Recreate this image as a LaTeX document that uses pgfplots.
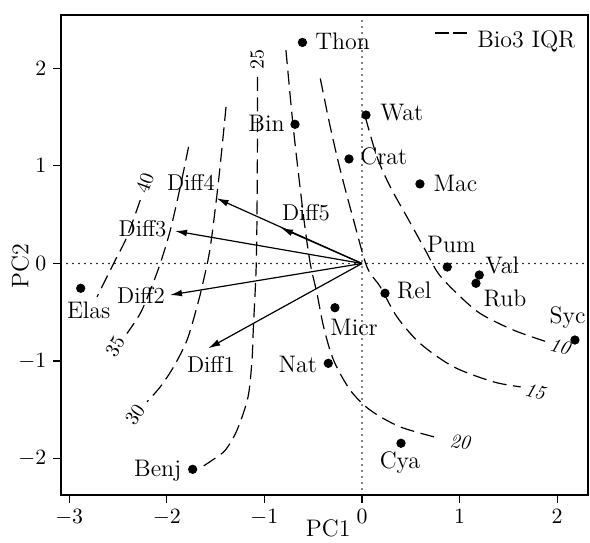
\documentclass[border=0pt]{standalone}
\usepackage{pgfplots}
\pgfplotsset{compat=1.18}
\usetikzlibrary{arrows.meta}

\tikzset{
  contour/.style={black, line width=0.6bp, dash pattern=on 7bp off 3.3bp},
  refline/.style={black, line width=0.9bp, line cap=round, dash pattern=on 0pt off 3bp},
  vec/.style={black, line width=0.6bp, -{Latex[length=6bp,width=3.4bp]}},
  ptlab/.style={font=\fontsize{12}{14}\selectfont, inner sep=0pt, text height=0.683em, text depth=0pt},
  difflab/.style={font=\fontsize{11.5}{13}\selectfont, inner sep=0pt, text height=0.683em, text depth=0pt},
  clab/.style={font=\fontsize{10}{12}\selectfont, inner sep=0pt, text height=0.644em, text depth=0pt},
}

\begin{document}
\begin{tikzpicture}
\useasboundingbox (-30.5bp,-24bp) rectangle (264.5bp,247.5bp);
\begin{axis}[
  at={(0,0)}, anchor=south west,
  scale only axis, width=263.5bp, height=240bp,
  xmin=-3.084, xmax=2.316, ymin=-2.372, ymax=2.546,
  xtick={-3,-2,-1,0,1,2}, ytick={-2,-1,0,1,2},
  tick pos=left, tick align=outside, major tick length=3.8bp,
  axis line style={line width=0.6bp},
  every tick/.style={black, line width=0.6bp},
  tick label style={font=\fontsize{11}{13}\selectfont},
  xlabel={PC1}, ylabel={PC2},
  label style={font=\fontsize{12}{14}\selectfont, inner sep=0pt, text height=0.683em, text depth=0pt},
  xlabel style={at={(axis description cs:0.507,-0.0729)}, anchor=center},
  ylabel style={at={(axis description cs:-0.0746,0.477)}, anchor=center, rotate=0},
  legend style={draw=none, fill=none, inner sep=0pt,
    at={(axis description cs:0.977,0.9475)}, anchor=east,
    font=\fontsize{12}{14}\selectfont,
    nodes={inner sep=0pt, text height=0.683em, text depth=0pt},
    /tikz/every odd column/.append style={column sep=5bp}},
  legend image code/.code={\draw[#1, dash pattern=on 6.7bp off 2.2bp] (0bp,4bp) -- (15.6bp,4bp);},
]
\addlegendimage{contour}
\addlegendentry{Bio3 IQR}

% reference lines
\addplot[refline, forget plot] coordinates {(0,-2.372) (0,2.546)};
\addplot[refline, forget plot] coordinates {(-3.084,0) (2.316,0)};

% Bio3 IQR contours
\addplot[contour, smooth, forget plot] coordinates {
  (0.034,1.502) (0.154,1.092) (0.290,0.785) (0.461,0.477) (0.638,0.157)
  (0.782,-0.102) (0.973,-0.307) (1.211,-0.512) (1.553,-0.683) (1.895,-0.803)};
\addplot[contour, smooth, forget plot] coordinates {
  (-0.427,1.895) (-0.325,1.400) (-0.222,0.956) (-0.086,0.444) (0.051,-0.035)
  (0.188,-0.240) (0.359,-0.547) (0.597,-0.820) (0.939,-1.059) (1.348,-1.213) (1.625,-1.264)};
\addplot[contour, smooth, forget plot] coordinates {
  (-0.779,2.185) (-0.701,1.366) (-0.598,0.477) (-0.530,0) (-0.461,-0.307)
  (-0.393,-0.650) (-0.291,-0.991) (-0.120,-1.298) (0.085,-1.503) (0.392,-1.674) (0.802,-1.793)};
\addplot[contour, smooth, forget plot] coordinates {
  (-1.070,1.912) (-1.073,0.853) (-1.083,0.003) (-1.114,-0.683) (-1.127,-0.991)
  (-1.168,-1.370) (-1.281,-1.709) (-1.401,-1.913) (-1.534,-2.015) (-1.639,-2.084)};
\addplot[contour, smooth, forget plot] coordinates {
  (-1.393,1.605) (-1.469,0.853) (-1.554,0.170) (-1.623,-0.171) (-1.691,-0.445)
  (-1.793,-0.786) (-1.930,-1.059) (-2.067,-1.264) (-2.203,-1.418)};
\addplot[contour, smooth, forget plot] coordinates {
  (-1.777,1.195) (-1.862,0.785) (-1.964,0.341) (-2.067,0) (-2.169,-0.274)
  (-2.272,-0.512) (-2.408,-0.717)};
\addplot[contour, smooth, forget plot] coordinates {
  (-2.272,0.649) (-2.408,0.273) (-2.545,0) (-2.715,-0.342)};

\node[clab, font=\fontsize{10}{12}\selectfont\itshape, rotate=-15] at (axis cs:2.029,-0.852) {10};
\node[clab, font=\fontsize{10}{12}\selectfont\itshape, rotate=-15] at (axis cs:1.773,-1.313) {15};
\node[clab, font=\fontsize{10}{12}\selectfont\itshape, rotate=-5] at (axis cs:1.004,-1.826) {20};
\node[clab, rotate=90] at (axis cs:-1.073,2.085) {25};
\node[clab, rotate=55] at (axis cs:-2.326,-1.552) {30};
\node[clab, rotate=60] at (axis cs:-2.531,-0.852) {35};
\node[clab, rotate=70] at (axis cs:-2.223,0.822) {40};

% loadings
\addplot[vec, forget plot] coordinates {(0,0) (-1.575,-0.869)};
\addplot[vec, forget plot] coordinates {(0,0) (-1.967,-0.323)};
\addplot[vec, forget plot] coordinates {(0,0) (-1.916,0.333)};
\addplot[vec, forget plot] coordinates {(0,0) (-1.490,0.668)};
\addplot[vec, forget plot] coordinates {(0,0) (-0.830,0.364)};

\node[difflab, anchor=west] at (axis cs:-1.796,-1.045) {Diff1};
\node[difflab, anchor=west] at (axis cs:-2.513,-0.340) {Diff2};
\node[difflab, anchor=west] at (axis cs:-2.497,0.346) {Diff3};
\node[difflab, anchor=west] at (axis cs:-2.001,0.822) {Diff4};
\node[difflab, anchor=west] at (axis cs:-0.823,0.510) {Diff5};

% site scores
\addplot[only marks, mark=*, mark size=2.1bp, black, forget plot] coordinates {
  (-0.610,2.265) (-0.686,1.426) (0.041,1.521) (-0.133,1.071) (0.594,0.815)
  (0.874,-0.036) (1.202,-0.118) (1.168,-0.203) (2.182,-0.784) (0.236,-0.305)
  (-0.277,-0.453) (-0.345,-1.023) (0.400,-1.842) (-1.735,-2.109) (-2.882,-0.254)};

\node[ptlab, anchor=west] at (axis cs:-0.482,2.264) {Thon};
\node[ptlab, anchor=east] at (axis cs:-0.789,1.426) {Bin};
\node[ptlab, anchor=west] at (axis cs:0.184,1.530) {Wat};
\node[ptlab, anchor=west] at (axis cs:-0.020,1.086) {Crat};
\node[ptlab, anchor=west] at (axis cs:0.731,0.812) {Mac};
\node[ptlab, anchor=west] at (axis cs:0.663,0.181) {Pum};
\node[ptlab, anchor=west] at (axis cs:1.260,-0.036) {Val};
\node[ptlab, anchor=west] at (axis cs:1.243,-0.371) {Rub};
\node[ptlab, anchor=west] at (axis cs:1.919,-0.545) {Syc};
\node[ptlab, anchor=west] at (axis cs:0.356,-0.294) {Rel};
\node[ptlab, anchor=west] at (axis cs:-0.328,-0.669) {Micr};
\node[ptlab, anchor=east] at (axis cs:-0.458,-1.043) {Nat};
\node[ptlab] at (axis cs:0.389,-2.031) {Cya};
\node[ptlab, anchor=east] at (axis cs:-1.847,-2.108) {Benj};
\node[ptlab, anchor=west] at (axis cs:-3.026,-0.499) {Elas};
\end{axis}
\end{tikzpicture}
\end{document}
